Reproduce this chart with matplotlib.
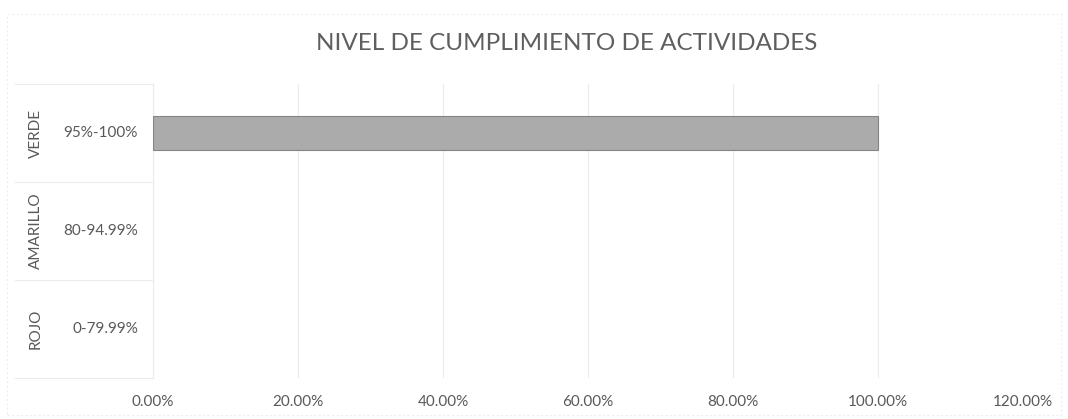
"""Nivel de cumplimiento de actividades: horizontal bar on a two-level category axis."""
import matplotlib.pyplot as plt
from matplotlib.lines import Line2D
from matplotlib.patches import Rectangle
from matplotlib.ticker import FuncFormatter

plt.rcParams["font.family"] = ["Lato", "DejaVu Sans"]

# bottom to top, as the axis reads
GROUPS = ["ROJO", "AMARILLO", "VERDE"]
RANGES = ["0-79.99%", "80-94.99%", "95%-100%"]
CUMPLIMIENTO = [0.0, 0.0, 1.0]
X_TICKS = [0.0, 0.2, 0.4, 0.6, 0.8, 1.0, 1.2]

TEXT = "#595959"
GRID = "#ececec"
PX = 72 / 100  # points per pixel at 100 dpi

fig = plt.figure(figsize=(10.68, 4.19), dpi=100)
W, H = 1068, 419
ax = fig.add_axes([153 / W, 1 - 378 / H, (1023 - 153) / W, (378 - 84) / H])

ypos = range(len(GROUPS))
edges = ["#858585" if v > 0 else "none" for v in CUMPLIMIENTO]
ax.barh(ypos, CUMPLIMIENTO, height=0.35, color="#ababab",
        edgecolor=edges, linewidth=0.8, zorder=3)

ax.set_xlim(0, 1.2)
ax.set_ylim(-0.5, len(GROUPS) - 0.5)
ax.set_xticks(X_TICKS)
ax.xaxis.set_major_formatter(FuncFormatter(lambda v, _: f"{v * 100:.2f}%"))
ax.set_yticks([])
ax.tick_params(axis="x", length=0, pad=17 * PX, labelsize=11, labelcolor=TEXT)
ax.grid(axis="x", color=GRID, linewidth=0.8, zorder=0)
for side in ("top", "right", "bottom"):
    ax.spines[side].set_visible(False)
ax.spines["left"].set_color(GRID)
ax.spines["left"].set_linewidth(0.8)

# inner and outer category labels
for y, grp, rng in zip(ypos, GROUPS, RANGES):
    ax.annotate(rng, xy=(0, y), xycoords=("axes fraction", "data"),
                xytext=(-15 * PX, 0), textcoords="offset points",
                ha="right", va="center", fontsize=11, color=TEXT)
    ax.annotate(grp, xy=(0, y), xycoords=("axes fraction", "data"),
                xytext=(-117 * PX, 0), textcoords="offset points",
                ha="center", va="center", rotation=90, fontsize=11, color=TEXT)

# group separators across the label area
for yb in [-0.5, 0.5, 1.5, 2.5]:
    ax.add_line(Line2D([-138 / 870, 0], [yb, yb], transform=ax.get_yaxis_transform(),
                       color=GRID, linewidth=0.8, clip_on=False))

# chart area border
fig.patches.append(Rectangle((7 / W, 0.01), 1 - 14 / W, 1 - 18 / H,
                             transform=fig.transFigure, fill=False,
                             edgecolor="#eeeeee", linewidth=0.8, linestyle=(0, (2, 2))))

fig.text(567 / W, 1 - 43 / H, "NIVEL DE CUMPLIMIENTO DE ACTIVIDADES",
         ha="center", va="center", fontsize=17.5, color="#5f5f5f")

fig.savefig("out.png", dpi=100)
